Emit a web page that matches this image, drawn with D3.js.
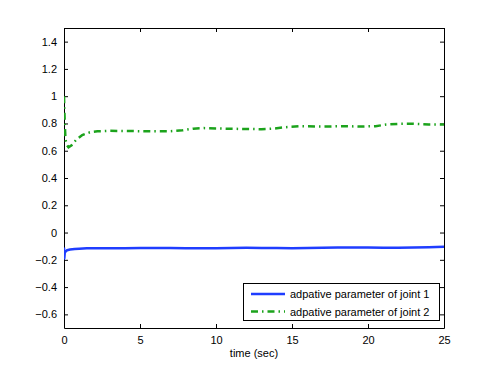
<!DOCTYPE html>
<html><head><meta charset="utf-8">
<script src="https://cdn.jsdelivr.net/npm/d3@7/dist/d3.min.js"></script>
<style>
body{margin:0;background:#fff;}
text{font-family:"Liberation Sans",Arial,Helvetica,sans-serif;font-size:11px;fill:#000;}
</style></head>
<body>
<svg id="chart" width="491" height="369"></svg>
<script>
const xTicks = [0, 5, 10, 15, 20, 25];
const yTicks = [-0.6, -0.4, -0.2, 0, 0.2, 0.4, 0.6, 0.8, 1, 1.2, 1.4];
const seriesNames = ["adpative parameter of joint 1", "adpative parameter of joint 2"];

const time1 = [0, 0.02, 0.05, 0.1, 0.2, 0.4, 0.7, 1.0, 1.5, 2, 3, 4, 5, 6, 7, 8, 9, 10, 11, 12, 13, 14, 15, 16, 17, 18, 19, 20, 21, 22, 23, 24, 25];
const joint1 = [-0.11, -0.19, -0.15, -0.14, -0.13, -0.125, -0.12, -0.118, -0.115, -0.115, -0.116, -0.115, -0.114, -0.113, -0.114, -0.115, -0.116, -0.115, -0.113, -0.112, -0.113, -0.114, -0.115, -0.114, -0.112, -0.11, -0.109, -0.11, -0.112, -0.111, -0.109, -0.107, -0.105];

const time2 = [0, 0.05, 0.1, 0.2, 0.3, 0.5, 0.8, 1.2, 1.7, 2.2, 3, 4, 5, 6, 7, 7.8, 8.5, 9.2, 10, 11, 12, 13, 13.8, 14.5, 15.5, 17, 18.5, 19.5, 20.5, 21.2, 22, 23, 24, 25];
const joint2 = [1.0, 0.8, 0.68, 0.64, 0.625, 0.64, 0.68, 0.715, 0.735, 0.742, 0.746, 0.745, 0.743, 0.742, 0.743, 0.75, 0.762, 0.766, 0.763, 0.761, 0.759, 0.758, 0.762, 0.772, 0.78, 0.777, 0.78, 0.777, 0.78, 0.792, 0.797, 0.798, 0.793, 0.793];

const svg = d3.select("#chart");
const L = 64, R = 444, T = 28, B = 328;
const x = d3.scaleLinear().domain([0, 25]).range([L, R]);
const y = d3.scaleLinear().domain([-0.7, 1.5]).range([B, T]);
const fmt = d => (d < 0 ? "\u2212" : "") + d3.format("")(Math.abs(+d.toFixed(1)));

const tickLen = 4;
const gB = svg.append("g").attr("transform", `translate(0,${B})`)
  .call(d3.axisBottom(x).tickValues(xTicks).tickSizeInner(-tickLen).tickSizeOuter(0).tickPadding(8).tickFormat(fmt));
const gT = svg.append("g").attr("transform", `translate(0,${T})`)
  .call(d3.axisTop(x).tickValues(xTicks).tickSizeInner(-tickLen).tickSizeOuter(0).tickFormat(""));
const gL = svg.append("g").attr("transform", `translate(${L},0)`)
  .call(d3.axisLeft(y).tickValues(yTicks).tickSizeInner(-tickLen).tickSizeOuter(0).tickPadding(7).tickFormat(fmt));
const gR = svg.append("g").attr("transform", `translate(${R},0)`)
  .call(d3.axisRight(y).tickValues(yTicks).tickSizeInner(-tickLen).tickSizeOuter(0).tickFormat(""));
[gB, gT, gL, gR].forEach(g => {
  g.selectAll(".domain").attr("stroke", "#000");
  g.selectAll(".tick line").attr("stroke", "#000");
  g.selectAll("text").attr("font-size", 11).attr("font-family", "Liberation Sans, Arial, sans-serif").attr("fill", "#000");
});

svg.append("clipPath").attr("id", "clip").append("rect")
  .attr("x", L).attr("y", T).attr("width", R - L).attr("height", B - T);
const line = d3.line().x(d => x(d[0])).y(d => y(d[1]));
const d1 = time1.map((t, i) => [t, joint1[i]]);
const d2 = time2.map((t, i) => [t, joint2[i]]);
const g = svg.append("g").attr("clip-path", "url(#clip)");
g.append("path").datum(d1).attr("d", line).attr("fill", "none")
  .attr("stroke", "#1f3dff").attr("stroke-width", 2.5).attr("stroke-linejoin", "round");
g.append("path").datum(d2).attr("d", line).attr("fill", "none")
  .attr("stroke", "#1ca31c").attr("stroke-width", 2.5).attr("stroke-dasharray", "7,4,1.5,4");

svg.append("text").attr("x", (L + R) / 2).attr("y", 357).attr("text-anchor", "middle")
  .attr("font-size", 11.5).text("time (sec)");

const lg = svg.append("g");
lg.append("rect").attr("x", 243.5).attr("y", 283.5).attr("width", 196).attr("height", 37)
  .attr("fill", "#fff").attr("stroke", "#000").attr("stroke-width", 1);
const styles = [
  {stroke: "#1f3dff", dash: null},
  {stroke: "#1ca31c", dash: "7,4,1.5,4"}
];
seriesNames.forEach((n, i) => {
  const yy = 294 + i * 17.5;
  lg.append("line").attr("x1", 251).attr("x2", 285).attr("y1", yy).attr("y2", yy)
    .attr("stroke", styles[i].stroke).attr("stroke-width", 2.5)
    .attr("stroke-dasharray", styles[i].dash);
  lg.append("text").attr("x", 290).attr("y", yy + 4).attr("font-size", 11.6).text(n);
});
</script>
</body></html>
